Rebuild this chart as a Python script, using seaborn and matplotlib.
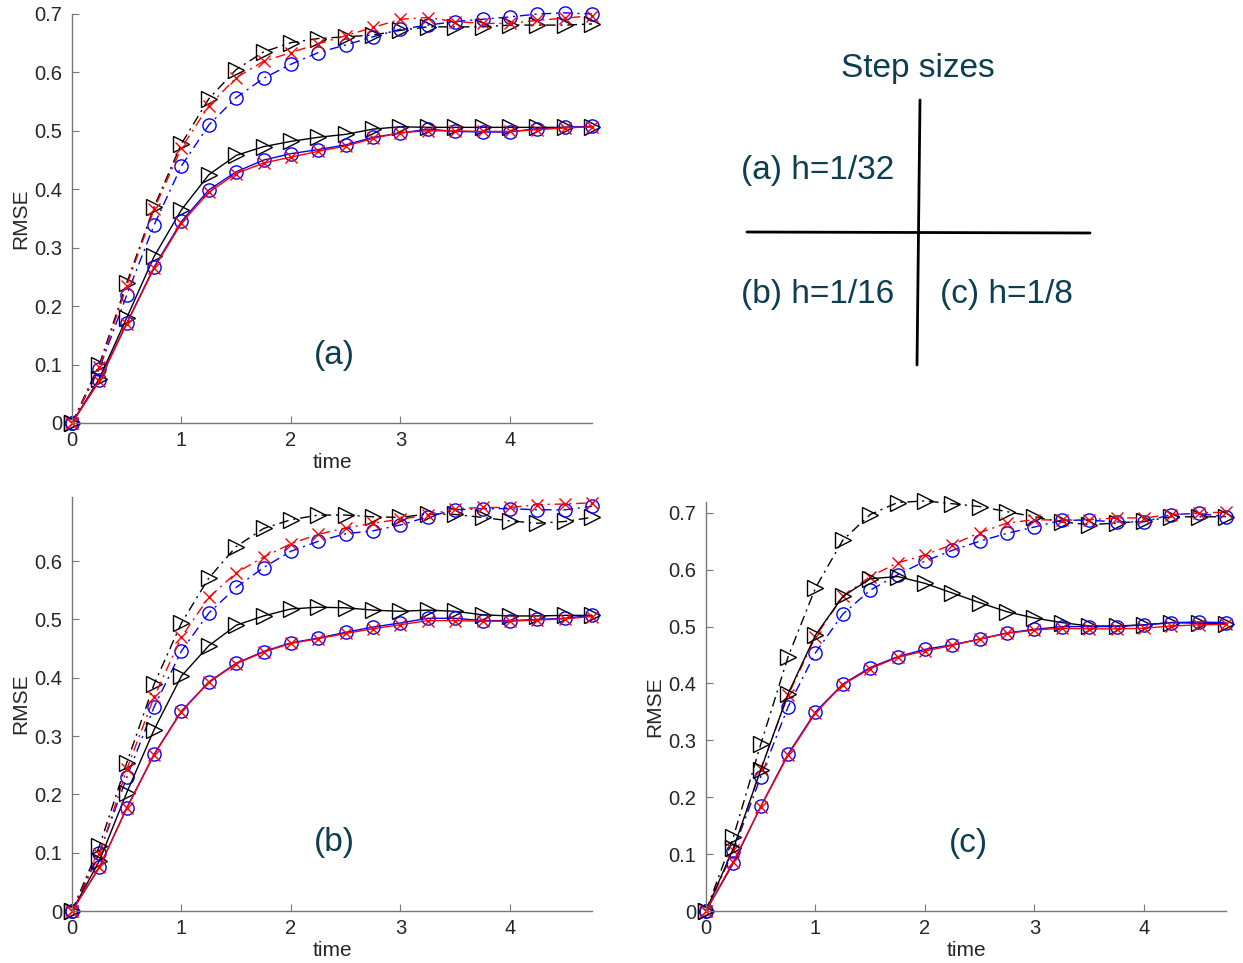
import numpy as np
import matplotlib
matplotlib.use("Agg")
import matplotlib.pyplot as plt
import seaborn as sns

# time grid and RMSE curves
t = [0, 0.25, 0.5, 0.75, 1.0, 1.25, 1.5, 1.75, 2.0, 2.25,
     2.5, 2.75, 3.0, 3.25, 3.5, 3.75, 4.0, 4.25, 4.5, 4.75]

a_black_solid = [0, 0.076, 0.18, 0.285, 0.365, 0.425, 0.458, 0.473, 0.482, 0.489,
                 0.494, 0.503, 0.507, 0.506, 0.506, 0.506, 0.506, 0.506, 0.506, 0.507]
a_blue_solid = [0, 0.073, 0.171, 0.267, 0.345, 0.399, 0.43, 0.45, 0.461, 0.468,
                0.476, 0.489, 0.496, 0.503, 0.499, 0.498, 0.498, 0.504, 0.506, 0.508]
a_red_solid = [0, 0.072, 0.17, 0.265, 0.342, 0.395, 0.427, 0.445, 0.455, 0.465,
               0.474, 0.487, 0.497, 0.5, 0.5, 0.499, 0.499, 0.502, 0.505, 0.507]
a_black_dash = [0, 0.10, 0.24, 0.37, 0.478, 0.555, 0.605, 0.635, 0.651, 0.658,
                0.661, 0.664, 0.672, 0.678, 0.678, 0.678, 0.681, 0.681, 0.681, 0.683]
a_red_dash = [0, 0.095, 0.235, 0.366, 0.471, 0.543, 0.591, 0.619, 0.634, 0.649,
              0.663, 0.677, 0.691, 0.694, 0.687, 0.684, 0.684, 0.689, 0.693, 0.697]
a_blue_dash = [0, 0.093, 0.219, 0.339, 0.44, 0.51, 0.557, 0.59, 0.614, 0.634,
               0.647, 0.661, 0.674, 0.681, 0.687, 0.691, 0.695, 0.7, 0.702, 0.7]

b_black_solid = [0, 0.086, 0.203, 0.311, 0.403, 0.455, 0.49, 0.506, 0.518, 0.521,
                 0.52, 0.516, 0.514, 0.516, 0.514, 0.508, 0.506, 0.506, 0.507, 0.507]
b_blue_solid = [0, 0.075, 0.177, 0.269, 0.343, 0.393, 0.425, 0.445, 0.46, 0.468,
                0.478, 0.487, 0.494, 0.502, 0.502, 0.498, 0.498, 0.5, 0.502, 0.507]
b_red_solid = [0, 0.075, 0.176, 0.268, 0.342, 0.392, 0.424, 0.444, 0.459, 0.467,
               0.476, 0.484, 0.491, 0.498, 0.498, 0.497, 0.497, 0.499, 0.501, 0.505]
b_black_dash = [0, 0.111, 0.254, 0.389, 0.494, 0.571, 0.625, 0.656, 0.671, 0.679,
                0.679, 0.676, 0.675, 0.681, 0.68, 0.675, 0.669, 0.665, 0.668, 0.675]
b_red_dash = [0, 0.097, 0.243, 0.367, 0.47, 0.538, 0.58, 0.607, 0.63, 0.646,
              0.657, 0.665, 0.672, 0.679, 0.69, 0.692, 0.692, 0.697, 0.698, 0.7]
b_blue_dash = [0, 0.1, 0.229, 0.35, 0.446, 0.511, 0.555, 0.589, 0.617, 0.634,
               0.647, 0.652, 0.662, 0.676, 0.688, 0.69, 0.69, 0.688, 0.688, 0.694]

c_black_solid = [0, 0.11, 0.248, 0.382, 0.485, 0.553, 0.584, 0.588, 0.576, 0.559,
                 0.542, 0.526, 0.515, 0.507, 0.501, 0.501, 0.503, 0.507, 0.506, 0.505]
c_blue_solid = [0, 0.084, 0.184, 0.276, 0.35, 0.399, 0.428, 0.447, 0.46, 0.468,
                0.478, 0.489, 0.495, 0.5, 0.5, 0.5, 0.503, 0.507, 0.508, 0.507]
c_red_solid = [0, 0.087, 0.183, 0.274, 0.348, 0.398, 0.426, 0.446, 0.457, 0.467,
               0.478, 0.488, 0.494, 0.497, 0.496, 0.496, 0.497, 0.501, 0.503, 0.504]
c_black_dash = [0, 0.13, 0.293, 0.447, 0.568, 0.652, 0.697, 0.718, 0.721, 0.716,
                0.711, 0.702, 0.693, 0.684, 0.679, 0.682, 0.685, 0.693, 0.693, 0.693]
c_red_dash = [0, 0.107, 0.25, 0.379, 0.482, 0.553, 0.588, 0.612, 0.626, 0.644,
              0.665, 0.682, 0.688, 0.687, 0.688, 0.691, 0.691, 0.697, 0.7, 0.701]
c_blue_dash = [0, 0.106, 0.236, 0.359, 0.454, 0.522, 0.564, 0.591, 0.615, 0.634,
               0.65, 0.664, 0.675, 0.687, 0.687, 0.684, 0.684, 0.697, 0.699, 0.693]

panels = {
    "a": [a_black_dash, a_blue_dash, a_red_dash, a_black_solid, a_blue_solid, a_red_solid],
    "b": [b_black_dash, b_blue_dash, b_red_dash, b_black_solid, b_blue_solid, b_red_solid],
    "c": [c_black_dash, c_blue_dash, c_red_dash, c_black_solid, c_blue_solid, c_red_solid],
}
dashdot = (0, (7, 3.5, 1.5, 3.5))
styles = [("black", dashdot, ">", 11), ("blue", dashdot, "o", 9.5), ("red", dashdot, "x", 8),
          ("black", "-", ">", 11), ("blue", "-", "o", 9.5), ("red", "-", "x", 8)]

sns.set_style("ticks")
plt.rcParams["font.family"] = ["Liberation Sans", "DejaVu Sans"]
text_col = "#0d3d50"

fig = plt.figure(figsize=(12.43, 9.63), dpi=100)
W, H = 1243, 963
# axes boxes in pixels: left, top, right, bottom
boxes = {"a": (72, 14, 592, 423), "b": (72, 497, 592, 911), "c": (706, 502, 1226, 911)}
ylims = {"a": 0.70, "b": 0.71, "c": 0.719}
yticks = {"a": np.arange(0, 0.71, 0.1), "b": np.arange(0, 0.61, 0.1), "c": np.arange(0, 0.71, 0.1)}

for key, series in panels.items():
    l, tp, r, b = boxes[key]
    ax = fig.add_axes([l / W, 1 - b / H, (r - l) / W, (b - tp) / H])
    for vals, (col, ls, mk, ms) in zip(series, styles):
        sns.lineplot(x=t, y=vals, ax=ax, color=col, linestyle=ls, linewidth=1.0,
                     marker=mk, markersize=ms, markerfacecolor="none",
                     markeredgecolor=col, markeredgewidth=1.0, clip_on=False)
    ax.set_xlim(0, 4.75)
    ax.set_ylim(0, ylims[key])
    ax.set_xticks([0, 1, 2, 3, 4])
    ax.set_xticklabels(["0", "1", "2", "3", "4"])
    ax.set_yticks(yticks[key])
    ax.set_yticklabels(["0"] + [f"{v:.1f}" for v in yticks[key][1:]])
    sns.despine(ax=ax)
    for s in ["left", "bottom"]:
        ax.spines[s].set_color("#777777")
        ax.spines[s].set_linewidth(1.0)
    ax.tick_params(direction="in", length=5, width=0.8, color="#777777",
                   labelsize=14.5)
    ax.tick_params(axis="y", pad=7)
    ax.tick_params(axis="x", pad=6)
    ax.set_xlabel("time", fontsize=15, labelpad=2)
    ax.set_ylabel("RMSE", fontsize=15, labelpad=3)
    ax.text(0.505, 0.166, f"({key})", transform=ax.transAxes, ha="center",
            va="center", fontsize=24, color=text_col)

# step size legend diagram
ov = fig.add_axes([0, 0, 1, 1])
ov.set_xlim(0, W)
ov.set_ylim(H, 0)
ov.axis("off")
ov.plot([920, 917], [100, 365], color="black", lw=2)
ov.plot([747, 1090], [232, 233], color="black", lw=2)
ov.text(918, 68, "Step sizes", ha="center", va="center", fontsize=24, color=text_col)
ov.text(818, 170, "(a) h=1/32", ha="center", va="center", fontsize=24, color=text_col)
ov.text(818, 294, "(b) h=1/16", ha="center", va="center", fontsize=24, color=text_col)
ov.text(1006, 294, "(c) h=1/8", ha="center", va="center", fontsize=24, color=text_col)

fig.savefig("out.png", dpi=100)
plt.close(fig)
